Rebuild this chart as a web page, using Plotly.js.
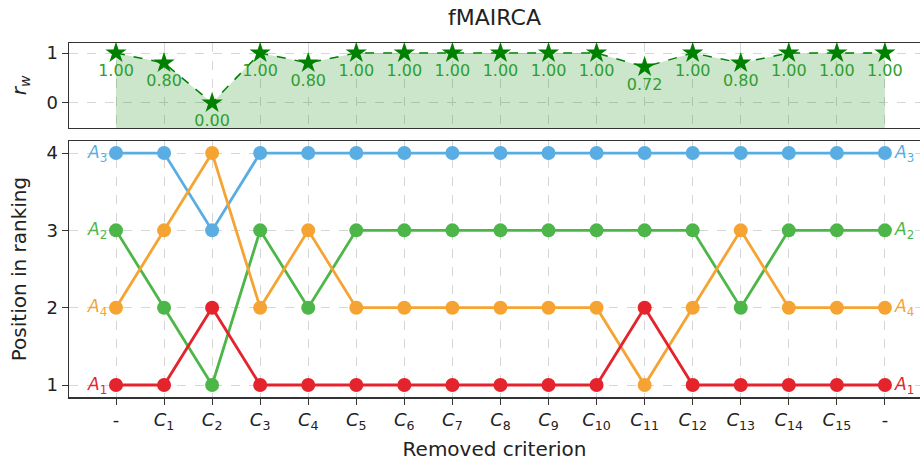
<!DOCTYPE html>
<html>
<head>
<meta charset="utf-8">
<script src="https://cdn.plot.ly/plotly-3.0.1.min.js"></script>
<style>html,body{margin:0;padding:0;background:#fff;}#chart{width:920px;height:464px;}</style>
</head>
<body>
<div id="chart"></div>
<script>
const xIdx = [0,1,2,3,4,5,6,7,8,9,10,11,12,13,14,15,16];
const tickLabels = ['-','<i>C</i><sub>1</sub>','<i>C</i><sub>2</sub>','<i>C</i><sub>3</sub>','<i>C</i><sub>4</sub>','<i>C</i><sub>5</sub>','<i>C</i><sub>6</sub>','<i>C</i><sub>7</sub>','<i>C</i><sub>8</sub>','<i>C</i><sub>9</sub>','<i>C</i><sub>10</sub>','<i>C</i><sub>11</sub>','<i>C</i><sub>12</sub>','<i>C</i><sub>13</sub>','<i>C</i><sub>14</sub>','<i>C</i><sub>15</sub>','-'];
const rw = [1.00,0.80,0.00,1.00,0.80,1.00,1.00,1.00,1.00,1.00,1.00,0.72,1.00,0.80,1.00,1.00,1.00];
const altNames = ['A1','A2','A3','A4'];
const rankA1 = [1,1,2,1,1,1,1,1,1,1,1,2,1,1,1,1,1];
const rankA2 = [3,2,1,3,2,3,3,3,3,3,3,3,3,2,3,3,3];
const rankA3 = [4,4,3,4,4,4,4,4,4,4,4,4,4,4,4,4,4];
const rankA4 = [2,3,4,2,3,2,2,2,2,2,2,1,2,3,2,2,2];

const ranks = [rankA1, rankA2, rankA3, rankA4];
const colors = ['#e4232c', '#4cb748', '#5aade2', '#f5a433'];
const font = 'DejaVu Sans, sans-serif';
const yBottom = -0.5;

const traces = [];
traces.push({x: xIdx, y: xIdx.map(() => yBottom), xaxis: 'x2', yaxis: 'y2', mode: 'lines',
  line: {width: 0, color: 'rgba(0,0,0,0)'}, hoverinfo: 'skip', showlegend: false});
traces.push({x: xIdx, y: rw, xaxis: 'x2', yaxis: 'y2', mode: 'lines+markers+text',
  fill: 'tonexty', fillcolor: 'rgba(0,128,0,0.2)',
  line: {color: '#008000', width: 1.5, dash: 'dash'},
  marker: {symbol: 'star', size: 16, color: '#008000'},
  text: rw.map(v => v.toFixed(2)), textposition: 'bottom center',
  textfont: {family: font, size: 16, color: '#2f9e2f'}, cliponaxis: false, showlegend: false});

const drawOrder = [2, 1, 3, 0];
drawOrder.forEach(i => {
  traces.push({x: xIdx, y: ranks[i], xaxis: 'x', yaxis: 'y', mode: 'lines+markers',
    line: {color: colors[i], width: 2.8}, marker: {size: 14, color: colors[i]},
    name: altNames[i], showlegend: false, cliponaxis: false});
});

const annotations = [];
ranks.forEach((r, i) => {
  const lab = '<i>A</i><sub>' + altNames[i].slice(1) + '</sub>';
  annotations.push({x: xIdx[0], y: r[0], xref: 'x', yref: 'y', text: lab, showarrow: false,
    xanchor: 'right', xshift: -7, font: {family: font, size: 17, color: colors[i]}});
  annotations.push({x: xIdx[xIdx.length-1], y: r[r.length-1], xref: 'x', yref: 'y', text: lab, showarrow: false,
    xanchor: 'left', xshift: 7, font: {family: font, size: 17, color: colors[i]}});
});

const xr = [-0.978, 16.73];
const axisCommon = {showgrid: true, gridcolor: '#d6d6d6', griddash: 'dash', gridwidth: 1,
  showline: true, linecolor: '#333', linewidth: 1.5, zeroline: false,
  ticks: 'outside', ticklen: 6, tickcolor: '#333', tickfont: {family: font, size: 18, color: '#222'}};

const layout = {
  width: 920, height: 464,
  margin: {l: 69, r: 0, t: 43, b: 67},
  paper_bgcolor: '#fff', plot_bgcolor: '#fff',
  title: {text: 'fMAIRCA', x: 0.5, xref: 'paper', y: 0.963, yanchor: 'middle',
    font: {family: font, size: 22, color: '#222'}},
  xaxis: Object.assign({}, axisCommon, {domain: [0, 1], anchor: 'y', range: xr, mirror: true,
    tickmode: 'array', tickvals: xIdx, ticktext: tickLabels,
    title: {text: 'Removed criterion', font: {family: font, size: 20, color: '#222'}, standoff: 10}}),
  yaxis: Object.assign({}, axisCommon, {domain: [0, 0.723], anchor: 'x', range: [0.845, 4.155],
    tickmode: 'array', tickvals: [1, 2, 3, 4],
    title: {text: 'Position in ranking', font: {family: font, size: 20, color: '#222'}, standoff: 14}}),
  xaxis2: Object.assign({}, axisCommon, {domain: [0, 1], anchor: 'y2', range: xr, mirror: true,
    matches: 'x', tickmode: 'array', tickvals: xIdx, showticklabels: false, ticks: ''}),
  yaxis2: Object.assign({}, axisCommon, {domain: [0.76, 1], anchor: 'x2', range: [-0.5, 1.2],
    tickmode: 'array', tickvals: [0, 1],
    title: {text: '<i>r<sub>w</sub></i>', font: {family: font, size: 20, color: '#222'}, standoff: 14}}),
  annotations: annotations,
  showlegend: false
};

Plotly.newPlot('chart', traces, layout, {displayModeBar: false, staticPlot: true});
</script>
</body>
</html>
